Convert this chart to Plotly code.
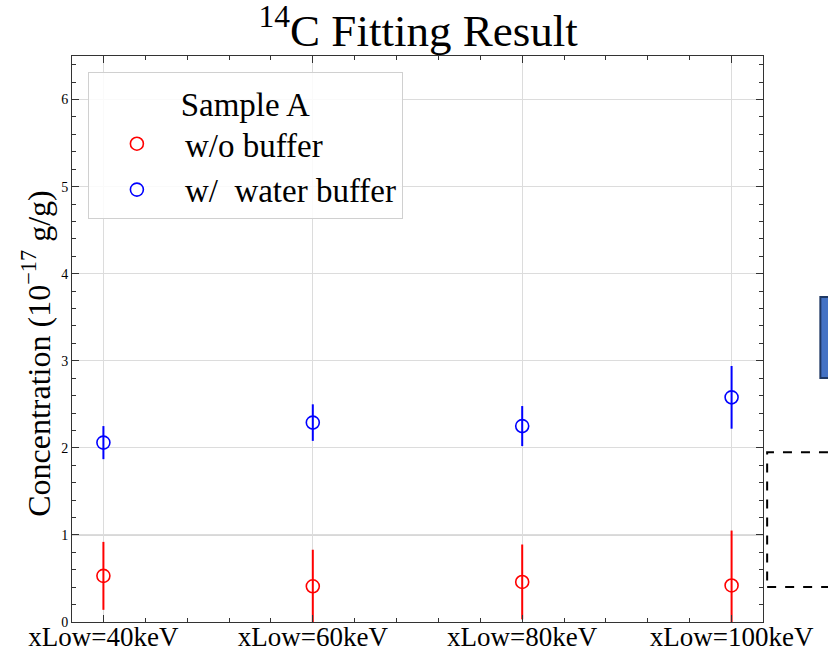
import plotly.graph_objects as go

categories = ["xLow=40keV", "xLow=60keV", "xLow=80keV", "xLow=100keV"]
x_pos = [0, 1, 2, 3]
wo_buffer = [0.53, 0.41, 0.46, 0.42]
wo_buffer_err = [0.39, 0.42, 0.43, 0.63]
water_buffer = [2.06, 2.29, 2.25, 2.58]
water_buffer_err = [0.19, 0.21, 0.23, 0.36]

FONT = "Liberation Serif"

fig = go.Figure()
fig.add_trace(go.Scatter(
    x=x_pos, y=wo_buffer, mode="markers", name="w/o buffer",
    marker=dict(symbol="circle-open", size=13, color="red", line=dict(width=1.6, color="red")),
    error_y=dict(type="data", array=wo_buffer_err, color="red", thickness=2, width=0),
))
fig.add_trace(go.Scatter(
    x=x_pos, y=water_buffer, mode="markers", name="w/  water buffer",
    marker=dict(symbol="circle-open", size=13, color="blue", line=dict(width=1.6, color="blue")),
    error_y=dict(type="data", array=water_buffer_err, color="blue", thickness=2, width=0),
))

# darker reference line at y=1
fig.add_shape(type="line", xref="paper", yref="y", x0=0, x1=1, y0=1, y1=1,
              line=dict(color="#a0a0a0", width=1), layer="below")

# cropped decoration shapes on right edge
fig.add_shape(type="rect", xref="paper", yref="paper", x0=1.083, x1=1.2, y0=0.431, y1=0.574,
              fillcolor="#4472C4", line=dict(color="#1f3864", width=2))
fig.add_shape(type="rect", xref="paper", yref="paper", x0=1.006, x1=1.2, y0=0.062, y1=0.300,
              fillcolor="rgba(0,0,0,0)", line=dict(color="black", width=2, dash="dash"))

# y-axis title as annotation for precise placement
fig.add_annotation(
    text="Concentration (10<sup>\u221217</sup> g/g)", textangle=-90,
    xref="paper", yref="paper", x=-0.052, y=0.474, xanchor="center", yanchor="middle",
    showarrow=False, font=dict(size=32, family=FONT, color="black"),
)

fig.update_layout(
    width=828, height=654,
    margin=dict(l=72, r=65, t=56, b=32, autoexpand=False),
    paper_bgcolor="white", plot_bgcolor="white",
    font=dict(family=FONT, color="black"),
    title=dict(text="<sup>14</sup>C Fitting Result", x=0.505, xanchor="center",
               y=0.978, yanchor="top", font=dict(size=45, family=FONT)),
    showlegend=True,
    legend=dict(
        title=dict(text="Sample A", side="top center", font=dict(size=33, family=FONT)),
        x=0.023, y=0.972, xanchor="left", yanchor="top",
        bgcolor="rgba(255,255,255,0.85)", bordercolor="#d0d0d0", borderwidth=1,
        font=dict(size=33, family=FONT), itemwidth=86,
    ),
    xaxis=dict(
        range=[-0.15, 3.15], tickvals=x_pos, ticktext=categories,
        tickfont=dict(size=27, family=FONT), automargin=False,
        ticklabeloverflow="allow", ticklabelstandoff=-9,
        showgrid=True, gridcolor="#dcdcdc", gridwidth=1,
        zeroline=False, showline=True, linecolor="#333", linewidth=1, mirror="ticks",
        ticks="inside", ticklen=7, tickcolor="#333",
        minor=dict(ticks="inside", dtick=0.2, tick0=0, ticklen=4, tickcolor="#333", showgrid=False),
    ),
    yaxis=dict(
        range=[0, 6.5], dtick=1, tick0=0, automargin=False,
        tickfont=dict(size=14, family=FONT),
        showgrid=True, gridcolor="#dcdcdc", gridwidth=1,
        zeroline=False, showline=True, linecolor="#333", linewidth=1, mirror="ticks",
        ticks="inside", ticklen=7, tickcolor="#333",
        minor=dict(ticks="inside", dtick=0.2, tick0=0, ticklen=4, tickcolor="#333", showgrid=False),
    ),
)

fig.write_html("out.html")
